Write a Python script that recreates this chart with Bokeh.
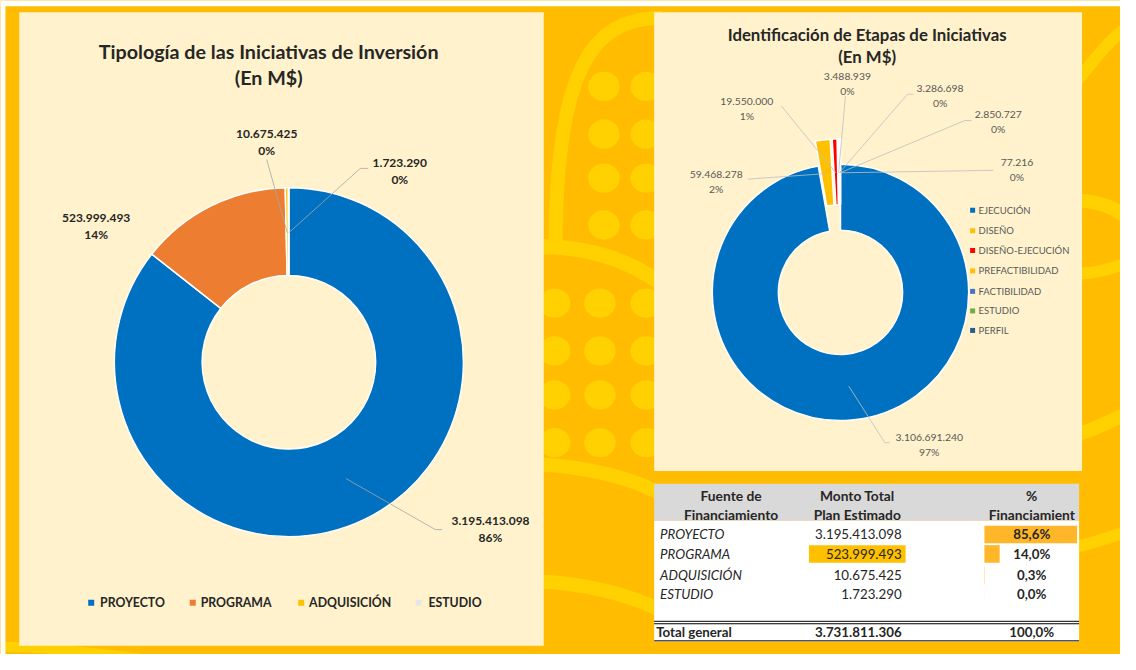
import math
from bokeh.plotting import figure
from bokeh.models import Range1d
from bokeh.core.properties import value
from bokeh.embed import file_html
from bokeh.resources import INLINE

# ---------------- data ----------------
tip_categories = ["PROYECTO", "PROGRAMA", "ADQUISICIÓN", "ESTUDIO"]
tip_values = [3195413098, 523999493, 10675425, 1723290]
tip_colors = ["#0070C0", "#ED7D31", "#FFC000", "#E7E6E6"]

etapa_categories = ["EJECUCIÓN", "DISEÑO", "DISEÑO-EJECUCIÓN", "PREFACTIBILIDAD",
                    "FACTIBILIDAD", "ESTUDIO", "PERFIL"]
etapa_values = [3106691240, 59468278, 19550000, 3488939, 3286698, 2850727, 77216]
etapa_colors = ["#0070C0", "#FFC000", "#FF0000", "#FFC000", "#4472C4", "#70AD47", "#255E91"]

table_header = [["Fuente de", "Financiamiento"], ["Monto Total", "Plan Estimado"], ["%", "Financiamient"]]
table_total_label = "Total general"

title_left = ["Tipología de las Iniciativas de Inversión", "(En M$)"]
title_right = ["Identificación de Etapas de Iniciativas", "(En M$)"]

# ---------------- helpers ----------------
FONT = value("Lato")
BG = "#FFBC00"
PAT = "#FFD100"
PANEL = "#FFF2CC"
INK = "#262626"


def fmt(v):
    return f"{v:,}".replace(",", ".")


def Y(y):
    return 670 - y


def fracs(values):
    total = sum(values)
    out, cum = [], 0
    for v in values:
        a0 = cum / total
        cum += v
        out.append((a0, cum / total))
    return out


# the whole 1136x670 composition is mapped into the 1120x654 figure
p = figure(width=1120, height=654, x_range=Range1d(0, 1136), y_range=Range1d(0, 670),
           output_backend="svg", toolbar_location=None, min_border=0)
p.axis.visible = False
p.grid.visible = False
p.outline_line_color = None
p.background_fill_color = BG
p.border_fill_color = BG

# ---------------- background pattern ----------------
def band(x0, y0, x1, y1, cx0, cy0, cx1, cy1, w):
    p.bezier(x0=[x0], y0=[Y(y0)], x1=[x1], y1=[Y(y1)], cx0=[cx0], cy0=[Y(cy0)],
             cx1=[cx1], cy1=[Y(cy1)], line_color=PAT, line_width=w)

dot_x, dot_y = [], []
for xx in [612, 655]:
    for yy in [88, 137, 182, 230]:
        dot_x.append(xx); dot_y.append(Y(yy))
for xx in [562, 608, 655]:
    for yy in [310, 359, 404, 453]:
        dot_x.append(xx); dot_y.append(Y(yy))
p.ellipse(x=dot_x, y=dot_y, width=32, height=30, fill_color=PAT, line_color=None)
band(563, 255, 670, 18, 563, 70, 600, 18, 14)
band(545, 252, 670, 290, 600, 252, 640, 268, 15)
band(545, 475, 670, 505, 600, 478, 640, 490, 14)
band(545, 595, 670, 625, 600, 598, 640, 610, 14)
band(1090, 85, 1140, 30, 1110, 60, 1125, 40, 12)
band(1090, 205, 1140, 220, 1110, 205, 1125, 210, 14)
band(1090, 280, 1140, 270, 1110, 280, 1125, 275, 12)
band(1090, 445, 1140, 425, 1110, 440, 1125, 430, 14)
band(1090, 560, 1140, 545, 1110, 555, 1125, 550, 12)
band(0, 662, 140, 674, 40, 662, 90, 668, 10)

# white page edge (top / left) as in the reference screenshot
p.quad(left=[0, 0], right=[1136, 5], top=[Y(0), Y(0)], bottom=[Y(6), Y(670)],
       fill_color="white", line_color=None)

# ---------------- panels ----------------
p.quad(left=[19, 663], right=[551, 1097], top=[Y(12), Y(12)], bottom=[Y(661), Y(482)],
       fill_color=PANEL, line_color=None)

# ---------------- left donut ----------------
LCX, LCY, LRO, LRI = 292.5, 370.5, 177, 88
lf = fracs(tip_values)
p.annular_wedge(x=[LCX] * 4, y=[Y(LCY)] * 4, inner_radius=LRI, outer_radius=LRO,
                start_angle=[math.pi / 2 - 2 * math.pi * a0 for a0, a1 in lf],
                end_angle=[math.pi / 2 - 2 * math.pi * a1 for a0, a1 in lf],
                direction="clock", fill_color=tip_colors, line_color="white", line_width=1.5)

p.text(x=[272, 272], y=[Y(52), Y(79)], text=title_left, text_font=FONT, text_font_size="19.7px",
       text_font_style="bold", text_color=INK, text_align="center", text_baseline="middle")

left_label_pos = [(497, 533), (97, 223), (270, 137), (405, 166)]
left_leader_from = [[(448, 542), (441, 542)], None, [(270, 163)], [(373, 172), (365, 172)]]
tot = sum(tip_values)
lx, ly, lt = [], [], []
for i, (v, (x, y)) in enumerate(zip(tip_values, left_label_pos)):
    lx += [x, x]; ly += [Y(y), Y(y + 17)]
    lt += [fmt(v), f"{round(100 * v / tot)}%"]
p.text(x=lx, y=ly, text=lt, text_font=FONT, text_font_size="12px", text_font_style="bold",
       text_color=INK, text_align="center", text_baseline="middle")
for i, pts in enumerate(left_leader_from):
    if pts is None:
        continue
    a0, a1 = lf[i]
    th = 2 * math.pi * (a0 + a1) / 2
    rm = (LRO + LRI) / 2
    mx, my = LCX + rm * math.sin(th), LCY - rm * math.cos(th)
    xs = [q[0] for q in pts] + [mx]
    ys = [Y(q[1]) for q in pts] + [Y(my)]
    p.line(xs, ys, line_color="#A6A6A6", line_width=0.8)

# left legend
leg_mx = [92, 195, 305, 424]
leg_tx = [101, 203, 313, 434]
p.scatter(x=leg_mx, y=[Y(617)] * 4, marker="square", size=6, fill_color=tip_colors, line_color=None)
p.text(x=leg_tx, y=[Y(617)] * 4, text=tip_categories, text_font=FONT, text_font_size="12.3px",
       text_font_style="bold", text_color=INK, text_align="left", text_baseline="middle")

# ---------------- right donut ----------------
RCX, RCY, RRO, RRI, EXPL = 852, 299, 130, 63, 26
rf = fracs(etapa_values)
cxs, cys, sa, ea = [], [], [], []
mids = []
for i, (a0, a1) in enumerate(rf):
    th = 2 * math.pi * (a0 + a1) / 2
    d = EXPL if i > 0 else 0
    cx, cy = RCX + d * math.sin(th), RCY - d * math.cos(th)
    cxs.append(cx); cys.append(Y(cy))
    sa.append(math.pi / 2 - 2 * math.pi * a0)
    ea.append(math.pi / 2 - 2 * math.pi * a1)
    rm = (RRO + RRI) / 2
    mids.append((cx + rm * math.sin(th), cy - rm * math.cos(th)))
p.annular_wedge(x=cxs, y=cys, inner_radius=RRI, outer_radius=RRO, start_angle=sa, end_angle=ea,
                direction="clock", fill_color=etapa_colors, line_color="white", line_width=1.5)

p.text(x=[879, 879], y=[Y(35), Y(57)], text=title_right, text_font=FONT, text_font_size="16.8px",
       text_font_style="bold", text_color=INK, text_align="center", text_baseline="middle")

right_label_pos = [(942, 448), (726, 178), (757, 103), (859, 78), (953, 90), (1012, 117), (1031, 166)]
right_leader_from = [[(902, 453), (897, 453)], [(758, 183)], [(792, 108)], [(857, 98)],
                     [(926, 96), (920, 96)], [(985, 123), (978, 123)], [(1007, 174)]]
rtot = sum(etapa_values)
rx, ry, rt = [], [], []
for v, (x, y) in zip(etapa_values, right_label_pos):
    rx += [x, x]; ry += [Y(y), Y(y + 15)]
    rt += [fmt(v), f"{round(100 * v / rtot)}%"]
for i, pts in enumerate(right_leader_from):
    mx, my = mids[i]
    p.line([q[0] for q in pts] + [mx], [Y(q[1]) for q in pts] + [Y(my)],
           line_color="#BFBFBF", line_width=0.8)
p.text(x=rx, y=ry, text=rt, text_font=FONT, text_font_size="10.4px", text_color="#595959",
       text_align="center", text_baseline="middle")

# right legend
rleg_y = [215, 236, 256, 277, 298, 318, 338]
p.scatter(x=[986] * 7, y=[Y(v) for v in rleg_y], marker="square", size=5,
          fill_color=etapa_colors, line_color=None)
p.text(x=[992] * 7, y=[Y(v) for v in rleg_y], text=etapa_categories, text_font=FONT,
       text_font_size="9.5px", text_color="#595959", text_align="left", text_baseline="middle")

# ---------------- table ----------------
TL, TR = 663, 1094
p.quad(left=[TL], right=[TR], top=[Y(495)], bottom=[Y(533)], fill_color="#D9D9D9", line_color=None)
p.quad(left=[TL], right=[TR], top=[Y(533)], bottom=[Y(657)], fill_color="white", line_color=None)

hdr_x = [741, 869, 1046]
hx, hy, ht = [], [], []
for x, lines in zip(hdr_x, table_header):
    hx += [x, x]; hy += [Y(507), Y(527)]; ht += lines
p.text(x=hx, y=hy, text=ht, text_font=FONT, text_font_size="13.8px", text_font_style="bold",
       text_color=INK, text_align="center", text_baseline="middle")

row_y = [547, 567, 589, 608]
ttot = sum(tip_values)
pcts = [100 * v / ttot for v in tip_values]
# data bars on the % column
bar_max = max(pcts)
p.quad(left=[998] * 4, right=[998 + 94 * pc / bar_max for pc in pcts],
       top=[Y(y - 9) for y in row_y], bottom=[Y(y + 9) for y in row_y],
       fill_color="#FFB628", line_color=None)
# highlighted value cell (PROGRAMA)
hi = tip_categories.index("PROGRAMA")
p.quad(left=[820], right=[918], top=[Y(row_y[hi] - 9)], bottom=[Y(row_y[hi] + 9)],
       fill_color="#FFC000", line_color=None)

p.text(x=[669] * 4, y=[Y(v) for v in row_y], text=tip_categories, text_font=FONT,
       text_font_size="13.3px", text_font_style="italic", text_color=INK,
       text_align="left", text_baseline="middle")
p.text(x=[914] * 4, y=[Y(v) for v in row_y], text=[fmt(v) for v in tip_values], text_font=FONT,
       text_font_size="13.3px", text_color=INK, text_align="right", text_baseline="middle")
pct_txt = [f"{pc:.1f}".replace(".", ",") + "%" for pc in pcts]
p.text(x=[1046] * 4, y=[Y(v) for v in row_y], text=pct_txt, text_font=FONT,
       text_font_size="13.3px", text_font_style="bold", text_color=INK,
       text_align="center", text_baseline="middle")

p.segment(x0=[TL] * 3, x1=[TR] * 3, y0=[Y(636), Y(638.5), Y(656)], y1=[Y(636), Y(638.5), Y(656)],
          line_color="#000000", line_width=1)
p.text(x=[665], y=[Y(647)], text=[table_total_label], text_font=FONT, text_font_size="13.3px",
       text_font_style="bold", text_color=INK, text_align="left", text_baseline="middle")
p.text(x=[914], y=[Y(647)], text=[fmt(ttot)], text_font=FONT, text_font_size="13.3px",
       text_font_style="bold", text_color=INK, text_align="right", text_baseline="middle")
p.text(x=[1046], y=[Y(647)], text=[f"{sum(pcts):.1f}".replace(".", ",") + "%"], text_font=FONT,
       text_font_size="13.3px", text_font_style="bold", text_color=INK,
       text_align="center", text_baseline="middle")

open("out.html", "w").write(file_html(p, INLINE))
